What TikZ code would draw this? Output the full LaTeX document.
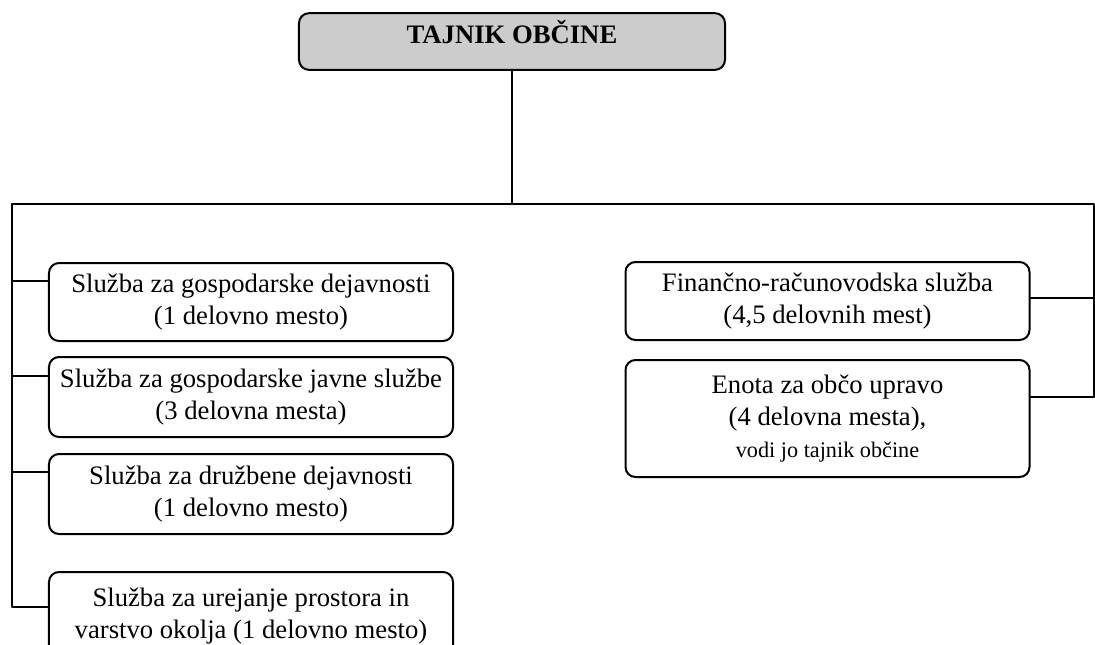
\documentclass[tikz,border=0pt]{standalone}
\usepackage{fontspec}
\setmainfont{Liberation Serif}
\begin{document}
\begin{tikzpicture}[x=0.45pt,y=-0.45pt,line join=round,line cap=round,
	font=\fontsize{12}{14.4}\selectfont,
	box/.style={draw,line width=0.9pt,rounded corners=4.5pt,align=center,inner sep=0pt,minimum width=181.8pt},
	conn/.style={line width=0.8pt}]
	\useasboundingbox (0,0) rectangle (1095,644);
	\node[box,fill=black!20,minimum width=191.7pt,text height=13.5pt,text depth=12pt,font=\fontsize{12}{14.4}\selectfont\bfseries] (tajnik) at (512,41.5) {TAJNIK OBČINE};
	% levo
	\node[box,minimum height=35.1pt] (gd) at (251,302) {Služba za gospodarske dejavnosti\\(1 delovno mesto)};
	\node[box,minimum height=36pt] (gjs) at (251,397) {Služba za gospodarske javne službe\\(3 delovna mesta)};
	\node[box,minimum height=36pt] (dd) at (251,494) {Služba za družbene dejavnosti\\(1 delovno mesto)};
	\node[box,minimum height=39.6pt] (up) at (251,616) {Služba za urejanje prostora in\\varstvo okolja (1 delovno mesto)};
	% desno
	\node[box,minimum height=35.1pt] (frs) at (827.5,301) {Finančno-računovodska služba\\(4,5 delovnih mest)};
	\node[box,minimum height=52.65pt] (ou) at (827.5,418.5) {Enota za občo upravo\\(4 delovna mesta),\\{\fontsize{10}{12}\selectfont vodi jo tajnik občine}};
	% povezave
	\coordinate (t) at (512,204);
	\coordinate (tl) at (12,204);
	\coordinate (tr) at (1094,204);
	\coordinate (l1) at (12,281);
	\coordinate (l2) at (12,376);
	\coordinate (l3) at (12,472);
	\coordinate (l4) at (12,607);
	\coordinate (r1) at (1094,298);
	\coordinate (r2) at (1094,397);
	\draw[conn] (tajnik) -- (t);
	\draw[conn] (r2) -- (tr) -- (tl) -- (l4) -- (l4 -| up.west);
	\foreach \c/\n in {l1/gd,l2/gjs,l3/dd}
		\draw[conn] (\c) -- (\c -| \n.west);
	\draw[conn] (r1) -- (r1 -| frs.east);
	\draw[conn] (r2) -- (r2 -| ou.east);
\end{tikzpicture}
\end{document}
